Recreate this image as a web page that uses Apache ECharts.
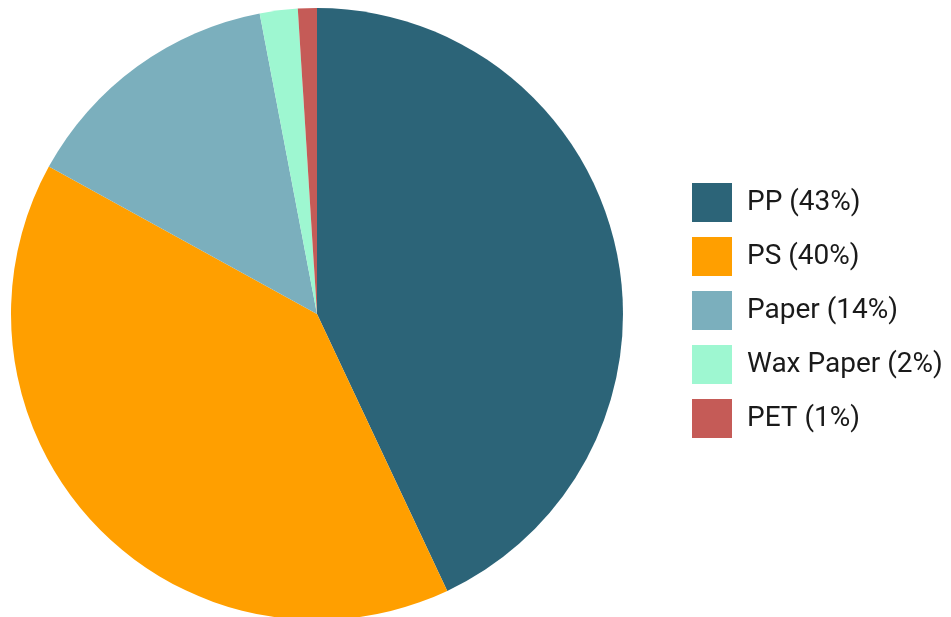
<!DOCTYPE html>
<html><head><meta charset="utf-8">
<script src="https://cdn.jsdelivr.net/npm/echarts@6/dist/echarts.min.js"></script>
<style>html,body{margin:0;padding:0;background:#fff}#c{width:951px;height:617px}</style>
</head><body><div id="c"></div>
<script>
const categories = ['PP', 'PS', 'Paper', 'Wax Paper', 'PET'];
const values = [43, 40, 14, 2, 1];
const colors = ['#2c6478', '#ff9f00', '#7bafbd', '#9ef7d1', '#c55b57'];

const chart = echarts.init(document.getElementById('c'), null, {renderer: 'canvas'});
const data = categories.map((c, i) => ({
  name: c + ' (' + values[i] + '%)',
  value: values[i],
  itemStyle: {color: colors[i]}
}));
chart.setOption({
  animation: false,
  legend: {
    orient: 'vertical',
    left: 692,
    top: 183,
    padding: 0,
    itemWidth: 40,
    itemHeight: 39,
    itemGap: 15,
    icon: 'rect',
    selectedMode: false,
    textStyle: {fontFamily: 'Roboto', fontSize: 28, color: '#1a1a1a', padding: [0, 0, 0, 10]},
    data: data.map(d => d.name)
  },
  series: [{
    type: 'pie',
    center: [317, 314],
    radius: [0, 306],
    startAngle: 90,
    clockwise: true,
    label: {show: false},
    labelLine: {show: false},
    itemStyle: {borderWidth: 0},
    emphasis: {disabled: true},
    data: data
  }]
});
</script></body></html>
